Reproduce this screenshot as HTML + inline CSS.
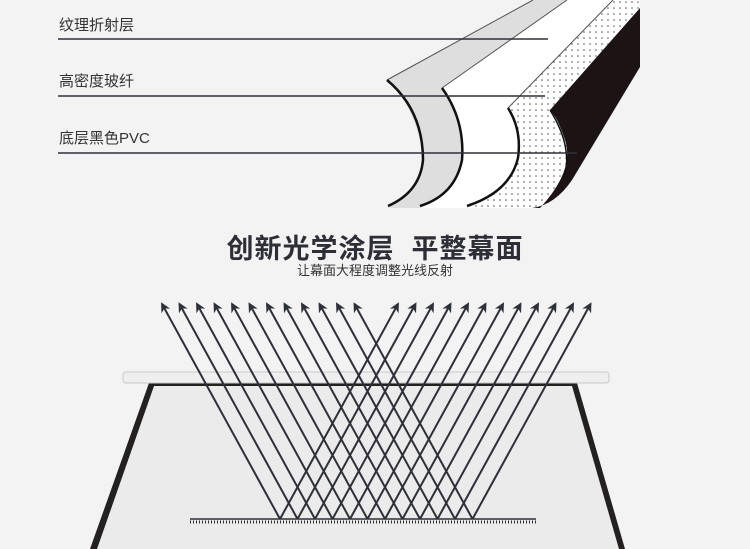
<!DOCTYPE html>
<html><head><meta charset="utf-8"><style>
html,body{margin:0;padding:0;background:#f3f3f3;}
body{width:750px;height:549px;overflow:hidden;position:relative;font-family:"Liberation Sans","Noto Sans CJK SC",sans-serif;}
.lbl{position:absolute;left:59px;font-size:15px;color:#333;line-height:18px;}
.t1{position:absolute;left:0;width:750px;text-align:center;top:227px;font-size:27px;font-weight:bold;color:#2e2f36;letter-spacing:1px;}
.t2{position:absolute;left:0;width:750px;text-align:center;top:260px;font-size:13px;color:#333;}
</style></head><body>
<svg width="750" height="549" style="position:absolute;left:0;top:0">
<defs>
<pattern id="dots" width="6" height="6" patternUnits="userSpaceOnUse"><circle cx="2" cy="2" r="0.8" fill="#555"/></pattern>
<marker id="ah" viewBox="0 0 10 10" refX="8" refY="5" markerWidth="5" markerHeight="5" orient="auto"><path d="M0,0 L10,5 L0,10 L3,5 Z" fill="#2e3038"/></marker>
</defs>
<!-- layers -->
<path d="M640,0 L613,0 L508,108 Q520,130 518,155 Q510,190 467,208 L540,208 Q575,170 565,140 Q558,118 550,110 L640,8 Z" fill="#fff"/>
<path d="M640,0 L613,0 L508,108 Q520,130 518,155 Q510,190 467,208 L540,208 Q575,170 565,140 Q558,118 550,110 L640,8 Z" fill="url(#dots)"/>
<path d="M640,8 L640,67 L572,180 Q555,205 532,208 L540,208 Q575,170 565,140 Q558,118 550,110 Z" fill="#1c1414"/>
<path d="M567,0 L613,0 L508,108 Q520,130 518,155 Q510,190 467,208 L420,208 Q462,185 462,155 Q458,110 442,88 Z" fill="#fff"/>
<path d="M533,0 L567,0 L442,88 Q465,125 462,160 Q455,195 420,208 L388,208 Q425,185 423,160 Q418,110 387,80 Z" fill="#dedede"/>
<path d="M533,0 L387,80" stroke="#555" stroke-width="1" fill="none"/>
<path d="M567,0 L442,88" stroke="#555" stroke-width="1" fill="none"/>
<path d="M613,0 L508,108" stroke="#555" stroke-width="1" fill="none"/>
<path d="M387,80 Q423,110 423,160 Q420,192 388,206" stroke="#111" stroke-width="2.5" fill="none"/>
<path d="M442,88 Q465,120 462,160 Q455,195 420,206" stroke="#111" stroke-width="2.5" fill="none"/>
<path d="M508,108 Q522,130 518,158 Q510,192 467,206" stroke="#111" stroke-width="2.5" fill="none"/>
<path d="M550,110 Q572,145 565,175" stroke="#111" stroke-width="1.5" fill="none"/>
<line x1="58" y1="39" x2="548" y2="39" stroke="#2e3038" stroke-width="1.5"/>
<line x1="58" y1="96" x2="545" y2="96" stroke="#2e3038" stroke-width="1.5"/>
<line x1="58" y1="153" x2="577" y2="153" stroke="#2e3038" stroke-width="1.5"/>
<!-- screen -->
<path d="M149,383 L577,383 L625,549 L90,549 Z" fill="#232020"/>
<path d="M154,386 L572,386 L619,549 L97,549 Z" fill="#ebebeb"/>
<rect x="123" y="372" width="486" height="11" rx="3" fill="#efefef" stroke="#c8c8c8" stroke-width="1"/>
<g stroke="#2e3038" stroke-width="2" fill="none" marker-end="url(#ah)">
<line x1="280" y1="519" x2="162" y2="304"/><line x1="297.5" y1="519" x2="179.5" y2="304"/><line x1="315" y1="519" x2="197" y2="304"/><line x1="332.5" y1="519" x2="214.5" y2="304"/><line x1="350" y1="519" x2="232" y2="304"/><line x1="367.5" y1="519" x2="249.5" y2="304"/><line x1="385" y1="519" x2="267" y2="304"/><line x1="402.5" y1="519" x2="284.5" y2="304"/><line x1="420" y1="519" x2="302" y2="304"/><line x1="437.5" y1="519" x2="319.5" y2="304"/><line x1="455" y1="519" x2="337" y2="304"/><line x1="472.5" y1="519" x2="354.5" y2="304"/>
<line x1="280" y1="519" x2="398" y2="304"/><line x1="297.5" y1="519" x2="415.5" y2="304"/><line x1="315" y1="519" x2="433" y2="304"/><line x1="332.5" y1="519" x2="450.5" y2="304"/><line x1="350" y1="519" x2="468" y2="304"/><line x1="367.5" y1="519" x2="485.5" y2="304"/><line x1="385" y1="519" x2="503" y2="304"/><line x1="402.5" y1="519" x2="520.5" y2="304"/><line x1="420" y1="519" x2="538" y2="304"/><line x1="437.5" y1="519" x2="555.5" y2="304"/><line x1="455" y1="519" x2="573" y2="304"/><line x1="472.5" y1="519" x2="590.5" y2="304"/>
</g>
<line x1="190" y1="519" x2="536" y2="519" stroke="#2e3038" stroke-width="1.5"/>
<line x1="190" y1="522" x2="536" y2="522" stroke="#2e3038" stroke-width="3" stroke-dasharray="1 2"/>
</svg>
<div class="lbl" style="top:17px">纹理折射层</div>
<div class="lbl" style="top:73px">高密度玻纤</div>
<div class="lbl" style="top:130px">底层黑色PVC</div>
<div class="t1">创新光学涂层&nbsp;&nbsp;平整幕面</div>
<div class="t2">让幕面大程度调整光线反射</div>
</body></html>
